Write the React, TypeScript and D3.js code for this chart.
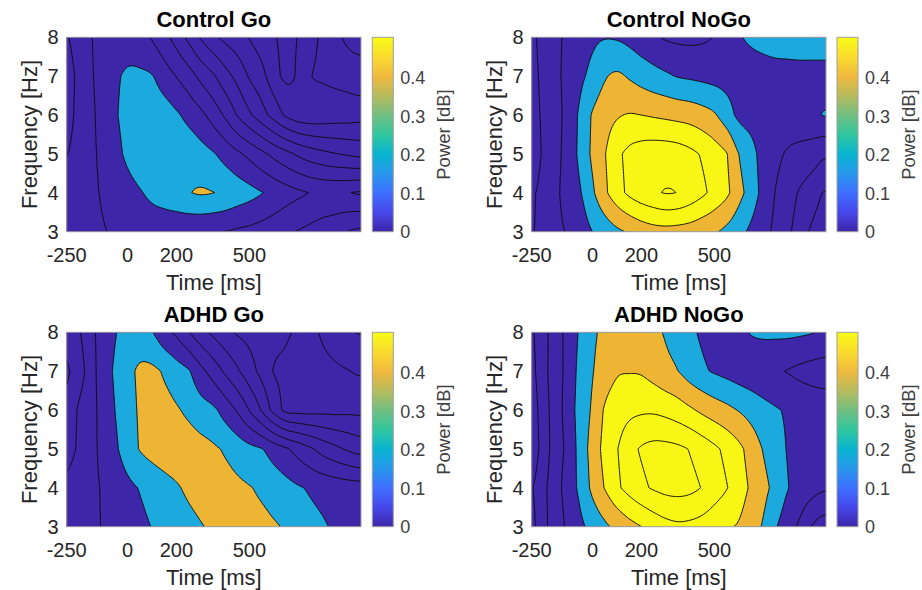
import React, { useMemo } from 'react';
import * as d3 from 'd3';

// ---------- data (rows: 8 Hz at top down to 3 Hz; columns: time samples) ----------
const times = [-250, -200, -150, -100, -50, 0, 50, 100, 150, 200, 250, 300, 350, 400, 450, 500, 550, 600, 650, 700, 750, 800, 850, 900, 950];
const freqs = [8, 7, 6, 5, 4, 3];
const levels = [-1.4, -1.2, -1.0, -0.8, -0.6, -0.4, -0.2, 0, 0.2, 0.4, 0.6, 0.8, 1.0];
const xTicks = [-250, 0, 200, 500];
const yTicks = [3, 4, 5, 6, 7, 8];
const cbTicks = [0, 0.1, 0.2, 0.3, 0.4];
const timeDomain = [-250, 958];
const freqDomain = [3, 8];
const cbDomain = [0, 0.505];
const titles = ['Control Go', 'Control NoGo', 'ADHD Go', 'ADHD NoGo'];

const controlGo = [
  [-0.21, -0.12, -0.01, 0.07, 0.11, 0.12, 0.07, -0.02, -0.14, -0.28, -0.45, -0.62, -0.75, -0.85, -0.92, -1.01, -1.10, -1.18, -1.25, -1.19, -1.07, -0.96, -0.87, -0.76, -0.70],
  [-0.26, -0.16, -0.02, 0.07, 0.17, 0.225, 0.235, 0.21, 0.10, -0.005, -0.11, -0.25, -0.37, -0.52, -0.66, -0.82, -0.94, -1.12, -1.24, -1.17, -1.01, -0.97, -0.95, -0.93, -0.92],
  [-0.27, -0.14, -0.04, 0.08, 0.18, 0.27, 0.32, 0.33, 0.30, 0.23, 0.14, 0.05, -0.08, -0.23, -0.41, -0.57, -0.72, -0.88, -1.03, -1.12, -1.14, -1.13, -1.11, -1.10, -1.08],
  [-0.205, -0.12, -0.04, 0.05, 0.14, 0.24, 0.31, 0.35, 0.37, 0.37, 0.34, 0.28, 0.22, 0.13, 0.04, -0.05, -0.15, -0.25, -0.34, -0.43, -0.50, -0.55, -0.59, -0.62, -0.65],
  [-0.14, -0.10, -0.04, 0.02, 0.07, 0.13, 0.185, 0.24, 0.29, 0.34, 0.39, 0.42, 0.405, 0.37, 0.32, 0.27, 0.21, 0.15, 0.09, 0.04, -0.002, -0.02, -0.02, -0.005, 0.02],
  [-0.12, -0.09, -0.05, -0.01, 0.02, 0.05, 0.08, 0.09, 0.07, 0.05, 0.035, 0.02, 0.01, -0.003, -0.03, -0.05, -0.08, -0.12, -0.17, -0.21, -0.25, -0.30, -0.34, -0.40, -0.44],
];

const controlNoGo = [
  [-0.24, -0.12, -0.04, 0.04, 0.10, 0.16, 0.19, 0.18, 0.14, 0.08, 0.03, -0.02, -0.04, -0.045, -0.03, 0.01, 0.10, 0.18, 0.23, 0.26, 0.28, 0.29, 0.30, 0.30, 0.30],
  [-0.26, -0.14, -0.04, 0.06, 0.16, 0.26, 0.38, 0.43, 0.38, 0.32, 0.27, 0.23, 0.19, 0.17, 0.15, 0.13, 0.12, 0.11, 0.11, 0.12, 0.13, 0.13, 0.13, 0.13, 0.13],
  [-0.28, -0.16, -0.07, 0.08, 0.24, 0.42, 0.52, 0.58, 0.61, 0.60, 0.58, 0.56, 0.54, 0.52, 0.48, 0.42, 0.29, 0.16, 0.12, 0.10, 0.10, 0.11, 0.13, 0.16, 0.21],
  [-0.30, -0.17, -0.06, 0.09, 0.25, 0.44, 0.59, 0.75, 0.85, 0.90, 0.92, 0.92, 0.90, 0.85, 0.78, 0.70, 0.61, 0.40, 0.27, 0.13, 0.05, -0.02, -0.06, -0.10, -0.17],
  [-0.22, -0.14, -0.04, 0.10, 0.19, 0.37, 0.56, 0.72, 0.84, 0.92, 0.97, 1.01, 0.995, 0.93, 0.84, 0.74, 0.64, 0.47, 0.31, 0.14, -0.005, -0.11, -0.22, -0.31, -0.41],
  [-0.21, -0.14, -0.05, 0.02, 0.10, 0.201, 0.28, 0.36, 0.42, 0.48, 0.52, 0.53, 0.52, 0.50, 0.46, 0.42, 0.35, 0.26, 0.16, 0.06, -0.04, -0.16, -0.29, -0.43, -0.50],
];

const adhdGo = [
  [-0.35, -0.22, -0.05, 0.08, 0.19, 0.27, 0.29, 0.21, 0.07, -0.04, -0.19, -0.33, -0.44, -0.54, -0.62, -0.66, -0.70, -0.74, -0.78, -0.83, -0.93, -1.03, -1.11, -1.17, -1.21],
  [-0.42, -0.30, -0.08, 0.10, 0.23, 0.34, 0.43, 0.44, 0.38, 0.30, 0.22, 0.06, -0.08, -0.23, -0.37, -0.52, -0.66, -0.81, -0.84, -0.87, -0.90, -0.93, -0.96, -0.99, -1.02],
  [-0.37, -0.17, -0.06, 0.07, 0.205, 0.32, 0.42, 0.46, 0.46, 0.42, 0.36, 0.29, 0.24, 0.12, -0.02, -0.21, -0.42, -0.67, -0.85, -0.87, -0.87, -0.86, -0.86, -0.85, -0.85],
  [-0.27, -0.17, -0.06, 0.06, 0.17, 0.30, 0.41, 0.47, 0.50, 0.51, 0.50, 0.47, 0.43, 0.38, 0.32, 0.26, 0.21, 0.12, 0.03, -0.07, -0.17, -0.27, -0.35, -0.42, -0.48],
  [-0.15, -0.10, -0.05, 0.02, 0.08, 0.15, 0.21, 0.27, 0.33, 0.38, 0.43, 0.46, 0.48, 0.47, 0.44, 0.41, 0.37, 0.32, 0.27, 0.22, 0.18, 0.15, 0.13, 0.11, 0.10],
  [-0.13, -0.09, -0.04, 0.01, 0.05, 0.10, 0.15, 0.205, 0.25, 0.30, 0.35, 0.39, 0.42, 0.45, 0.46, 0.46, 0.45, 0.42, 0.38, 0.32, 0.26, 0.22, 0.18, 0.15, 0.13],
];

const adhdNoGo = [
  [-0.42, -0.26, -0.09, 0.07, 0.23, 0.36, 0.45, 0.50, 0.52, 0.50, 0.45, 0.38, 0.31, 0.24, 0.17, 0.12, 0.11, 0.15, 0.21, 0.235, 0.24, 0.24, 0.23, 0.21, 0.18],
  [-0.45, -0.25, -0.10, 0.08, 0.26, 0.39, 0.50, 0.58, 0.59, 0.58, 0.52, 0.45, 0.401, 0.30, 0.23, 0.18, 0.14, 0.10, 0.07, 0.04, 0.015, -0.01, -0.05, -0.08, -0.10],
  [-0.50, -0.28, -0.10, 0.10, 0.28, 0.43, 0.62, 0.70, 0.75, 0.77, 0.77, 0.74, 0.69, 0.63, 0.56, 0.50, 0.45, 0.39, 0.33, 0.27, 0.22, 0.18, 0.15, 0.13, 0.12],
  [-0.52, -0.30, -0.10, 0.06, 0.28, 0.48, 0.66, 0.79, 0.93, 1.02, 1.06, 1.06, 1.04, 0.99, 0.92, 0.84, 0.75, 0.65, 0.52, 0.39, 0.29, 0.19, 0.14, 0.10, 0.08],
  [-0.41, -0.24, -0.08, 0.10, 0.25, 0.45, 0.61, 0.76, 0.87, 0.96, 1.02, 1.06, 1.07, 1.05, 0.99, 0.90, 0.81, 0.70, 0.57, 0.46, 0.34, 0.21, 0.14, 0.08, 0.03],
  [-0.45, -0.25, -0.10, 0.04, 0.16, 0.26, 0.36, 0.45, 0.53, 0.598, 0.67, 0.73, 0.76, 0.75, 0.72, 0.67, 0.62, 0.58, 0.48, 0.38, 0.22, 0.10, -0.04, -0.21, -0.30],
];

// ---------- styles ----------
const PARULA = [
  [0.2422, 0.1504, 0.6603], [0.2803, 0.2782, 0.9221], [0.2440, 0.4358, 0.9988], [0.1540, 0.5902, 0.9218],
  [0.0297, 0.7082, 0.8163], [0.1938, 0.7758, 0.6251], [0.4420, 0.7481, 0.5033], [0.7162, 0.7319, 0.3592],
  [0.9447, 0.7267, 0.2487], [0.9763, 0.8616, 0.1812], [0.9769, 0.9839, 0.0805],
];
const DBLUE = '#3e26a8';
const LBLUE = '#1ca9de';
const ORANGE = '#eeb535';
const YELLOW = '#f8f614';
const FONT = "'Liberation Sans', Arial, Helvetica, sans-serif";
const PW = 294.3;
const PH = 194.4;
const CBW = 21;

function bandColor(v: number) {
  if (v >= 0.6 - 1e-9) return YELLOW;
  if (v >= 0.4 - 1e-9) return ORANGE;
  if (v >= 0.2 - 1e-9) return LBLUE;
  return DBLUE;
}

function catmull(row: number[], i: number, u: number) {
  const n = row.length;
  const p0 = row[Math.max(i - 1, 0)];
  const p1 = row[i];
  const p2 = row[Math.min(i + 1, n - 1)];
  const p3 = row[Math.min(i + 2, n - 1)];
  return 0.5 * (2 * p1 + (-p0 + p2) * u + (2 * p0 - 5 * p1 + 4 * p2 - p3) * u * u + (-p0 + 3 * p1 - 3 * p2 + p3) * u * u * u);
}

function sample(grid: number[][], t: number, f: number) {
  const tc = Math.max(times[0], Math.min(times[times.length - 1], t));
  const fc = Math.max(freqs[freqs.length - 1], Math.min(freqs[0], f));
  const rPos = (freqs[0] - fc) / (freqs[0] - freqs[1]);
  const r0 = Math.min(Math.floor(rPos), freqs.length - 2);
  const rv = rPos - r0;
  const cPos = (tc - times[0]) / (times[1] - times[0]);
  const c0 = Math.min(Math.floor(cPos), times.length - 2);
  const u = cPos - c0;
  return catmull(grid[r0], c0, u) * (1 - rv) + catmull(grid[r0 + 1], c0, u) * rv;
}

type PanelSpec = { id: string; title: string; grid: number[][]; left: number; top: number; cbLeft: number };

function Panel({ p }: { p: PanelSpec }) {
  const x = d3.scaleLinear().domain(timeDomain).range([p.left, p.left + PW]);
  const y = d3.scaleLinear().domain(freqDomain).range([p.top + PH, p.top]);
  const cbY = d3.scaleLinear().domain(cbDomain).range([p.top + PH, p.top]);

  const { paths } = useMemo(() => {
    const s = 1.5;
    const M = 3;
    const nx = Math.ceil(PW / s) + 2 * M;
    const ny = Math.ceil(PH / s) + 2 * M;
    const gx0 = p.left - M * s;
    const gy0 = p.top - M * s;
    const values = new Array(nx * ny);
    for (let j = 0; j < ny; j++) {
      const f = y.invert(gy0 + (j + 0.5) * s);
      for (let i = 0; i < nx; i++) {
        const t = x.invert(gx0 + (i + 0.5) * s);
        values[j * nx + i] = sample(p.grid, t, f);
      }
    }
    const contours = d3.contours().size([nx, ny]).thresholds(levels)(values);
    const proj = d3.geoTransform({
      point(px: number, py: number) {
        (this as any).stream.point(gx0 + px * s, gy0 + py * s);
      },
    });
    const path = d3.geoPath(proj as any);
    return { paths: contours.map((c) => ({ value: c.value, d: path(c as any) || '' })) };
  }, [p.id]);

  const cbRight = p.cbLeft + CBW;
  const midY = p.top + PH / 2;

  return (
    <g>
      <defs>
        <clipPath id={`clip-${p.id}`}>
          <rect x={p.left} y={p.top} width={PW} height={PH} />
        </clipPath>
      </defs>
      <g clipPath={`url(#clip-${p.id})`}>
        <rect x={p.left} y={p.top} width={PW} height={PH} fill={DBLUE} />
        {paths.map((c, i) => (
          <path key={`f${i}`} d={c.d} fill={bandColor(c.value)} stroke="none" />
        ))}
        {paths.map((c, i) => (
          <path key={`s${i}`} d={c.d} fill="none" stroke="#0d0d0d" strokeWidth={0.95} strokeLinejoin="round" />
        ))}
      </g>
      <rect x={p.left} y={p.top} width={PW} height={PH} fill="none" stroke="#a0a0a0" strokeWidth={1} />
      {/* title */}
      <text x={p.left + PW / 2} y={p.top - 10.6} textAnchor="middle" fontSize={22} fontWeight="bold" fill="#000" fontFamily={FONT}>
        {p.title}
      </text>
      {/* x ticks */}
      {xTicks.map((t) => (
        <text key={`xt${t}`} x={x(t)} y={p.top + PH + 30} textAnchor="middle" fontSize={20} fill="#262626" fontFamily={FONT}>
          {String(t)}
        </text>
      ))}
      <text x={p.left + PW / 2} y={p.top + PH + 58} textAnchor="middle" fontSize={22} fill="#262626" fontFamily={FONT}>
        Time [ms]
      </text>
      {/* y ticks */}
      {yTicks.map((f) => (
        <text key={`yt${f}`} x={p.left - 8} y={y(f) + 7} textAnchor="end" fontSize={20} fill="#262626" fontFamily={FONT}>
          {String(f)}
        </text>
      ))}
      <text transform={`translate(${p.left - 29.3},${midY}) rotate(-90)`} textAnchor="middle" fontSize={22} fill="#262626" fontFamily={FONT}>
        Frequency [Hz]
      </text>
      {/* colorbar */}
      <rect x={p.cbLeft} y={p.top} width={CBW} height={PH} fill="url(#parula)" stroke="#a0a0a0" strokeWidth={1} />
      {cbTicks.map((v) => (
        <text key={`cb${v}`} x={cbRight + 7} y={cbY(v) + 6.3} textAnchor="start" fontSize={18} fill="#404040" fontFamily={FONT}>
          {String(v)}
        </text>
      ))}
      <text transform={`translate(${cbRight + 57},${midY}) rotate(-90)`} textAnchor="middle" fontSize={18.5} fill="#404040" fontFamily={FONT}>
        Power [dB]
      </text>
    </g>
  );
}

export default function App() {
  const grids = [controlGo, controlNoGo, adhdGo, adhdNoGo];
  const lefts = [66.7, 531.7, 66.7, 531.7];
  const tops = [37.3, 37.3, 332.3, 332.3];
  const cbLefts = [372.3, 837, 372.3, 837];
  const panels: PanelSpec[] = titles.map((title, i) => ({
    id: `p${i}`,
    title,
    grid: grids[i],
    left: lefts[i],
    top: tops[i],
    cbLeft: cbLefts[i],
  }));
  return (
    <svg width={922} height={590} style={{ position: 'absolute', left: 0, top: 0, background: '#fff' }}>
      <defs>
        <linearGradient id="parula" x1="0" y1="1" x2="0" y2="0">
          {PARULA.map((c, i) => (
            <stop key={i} offset={i / (PARULA.length - 1)} stopColor={d3.rgb(c[0] * 255, c[1] * 255, c[2] * 255).formatHex()} />
          ))}
        </linearGradient>
      </defs>
      {panels.map((p) => (
        <Panel key={p.id} p={p} />
      ))}
    </svg>
  );
}
